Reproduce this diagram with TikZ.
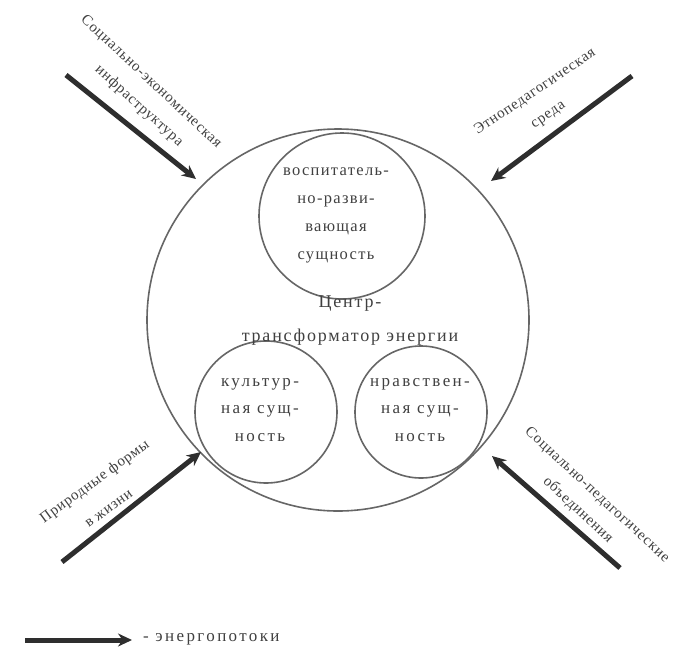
\documentclass[tikz,border=0pt]{standalone}
\usepackage{fontspec}
\setmainfont{Liberation Serif}
\newfontfamily\labfont[LetterSpace=5]{Liberation Serif}
\newfontfamily\inafont[LetterSpace=8]{Liberation Serif}
\newfontfamily\inbfont[LetterSpace=14]{Liberation Serif}
\newfontfamily\cenfont[LetterSpace=10]{Liberation Serif}
\usetikzlibrary{arrows.meta}
\tikzset{
  ring/.style={draw=black!60, line width=1.6pt},
  flow/.style={draw=black!82, line width=5pt, -{Stealth[length=14pt,width=13pt]}},
  lab/.style={text=black!75, font=\labfont\fontsize{15}{17}\selectfont, inner sep=0pt},
  legtxt/.style={text=black!75, font=\inbfont\fontsize{17}{19}\selectfont, inner sep=0pt},
  intext/.style={text=black!75, font=\inafont\fontsize{16.5}{28}\selectfont, align=center, inner sep=0pt},
  inbtext/.style={text=black!75, font=\inbfont\fontsize{17}{27.5}\selectfont, align=center, inner sep=0pt},
  centext/.style={text=black!75, font=\cenfont\fontsize{18}{34}\selectfont, align=center, inner sep=0pt},
}
\begin{document}
\begin{tikzpicture}[x=1pt,y=-1pt]
\useasboundingbox (0,0) rectangle (677,656);
% circles
\node[ring, circle, minimum size=382pt] (big) at (338,320) {};
\node[ring, circle, minimum size=166pt] (top) at (342,216) {};
\node[ring, circle, minimum size=142pt] (left) at (266,412) {};
\node[ring, circle, minimum size=132pt] (right) at (421,412) {};
% texts
\node[intext] (toptext) at (336,215) {воспитатель-\\но-разви-\\вающая\\сущность};
\node[centext] (center) at (350,321) {Центр-\\трансформатор энергии};
\node[inbtext] (lefttext) at (260,410) {культур-\\ная сущ-\\ность};
\node[inbtext] (righttext) at (420,410) {нравствен-\\ная сущ-\\ность};
% outer labels
\node[lab, rotate=-43] (tl1) at (151,82) {Социально-экономическая};
\node[lab, rotate=-42] (tl2) at (139,106) {инфраструктура};
\node[lab, rotate=34] (tr1) at (535,92) {Этнопедагогическая};
\node[lab, rotate=34] (tr2) at (549,116) {среда};
\node[lab, rotate=36] (bl1) at (95,482) {Природные формы};
\node[lab, rotate=36] (bl2) at (109,509) {в жизни};
\node[lab, rotate=-43] (br1) at (597,495) {Социально-педагогические};
\node[lab, rotate=-43] (br2) at (578,510) {объединения};
% energy flows
\coordinate (tlS) at (66,75);   \coordinate (tlE) at (196,179);
\coordinate (trS) at (632,76);  \coordinate (trE) at (491,181);
\coordinate (blS) at (62,562);  \coordinate (blE) at (201,452);
\coordinate (brS) at (620,568); \coordinate (brE) at (492,456);
\draw[flow] (tlS) -- (tlE);
\draw[flow] (trS) -- (trE);
\draw[flow] (blS) -- (blE);
\draw[flow] (brS) -- (brE);
% legend
\coordinate (legS) at (25,640); \coordinate (legE) at (132,640);
\draw[flow] (legS) -- (legE);
\node[legtxt, anchor=west] (legtext) at (143,639) {- энергопотоки};
\end{tikzpicture}
\end{document}
